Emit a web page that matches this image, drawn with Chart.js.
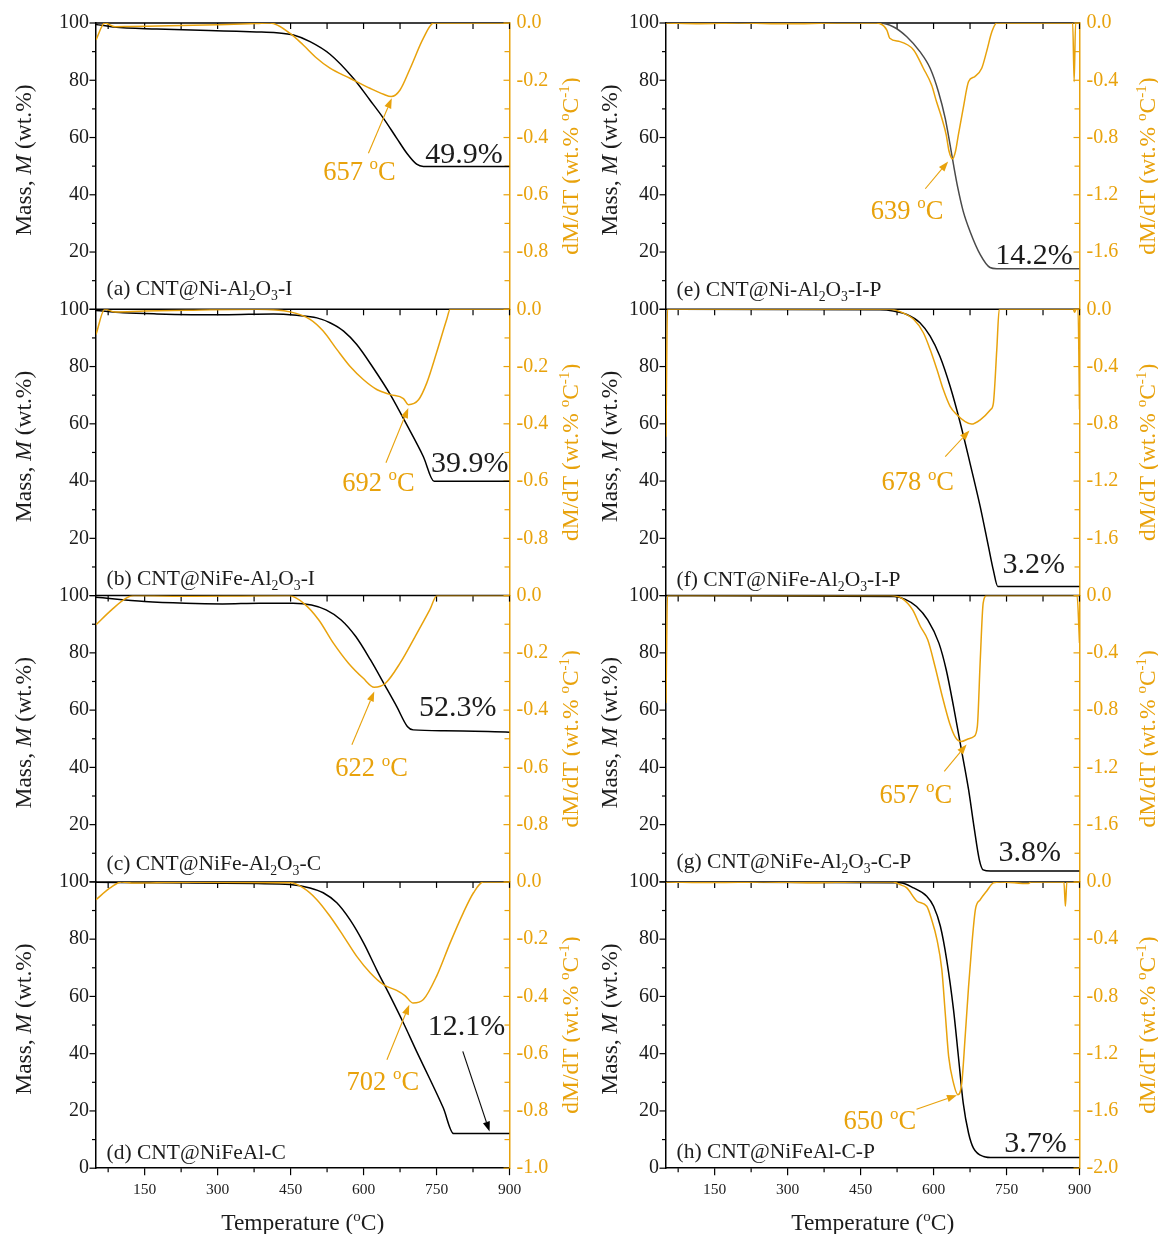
<!DOCTYPE html>
<html>
<head>
<meta charset="utf-8">
<title>TGA / DTG of CNT composites</title>
<script src="https://cdn.jsdelivr.net/npm/chart.js@4.4.1/dist/chart.umd.min.js"></script>
<style>
  html, body { margin: 0; padding: 0; background: #ffffff; }
  #wrap { position: relative; width: 1158px; height: 1234px; overflow: hidden; }
  #wrap canvas { position: absolute; top: 0; }
</style>
</head>
<body>
<div id="wrap"></div>
<script>
// ---------------- axis ticks ----------------
const xTicks = [150, 300, 450, 600, 750, 900];
const xMinorTicks = [75, 225, 375, 525, 675, 825];
const massTicks = [0, 20, 40, 60, 80, 100];
const massMinorTicks = [10, 30, 50, 70, 90];
const dtgTicksLeftCol = [0, -0.2, -0.4, -0.6, -0.8, -1.0];
const dtgMinorLeftCol = [-0.1, -0.3, -0.5, -0.7, -0.9];
const dtgTicksRightCol = [0, -0.4, -0.8, -1.2, -1.6, -2.0];
const dtgMinorRightCol = [-0.2, -0.6, -1.0, -1.4, -1.8];

// ---------------- sample names and labelled values ----------------
const sampleNames = [
  "(a) CNT@Ni-Al_{2}O_{3}-I",
  "(b) CNT@NiFe-Al_{2}O_{3}-I",
  "(c) CNT@NiFe-Al_{2}O_{3}-C",
  "(d) CNT@NiFeAl-C",
  "(e) CNT@Ni-Al_{2}O_{3}-I-P",
  "(f) CNT@NiFe-Al_{2}O_{3}-I-P",
  "(g) CNT@NiFe-Al_{2}O_{3}-C-P",
  "(h) CNT@NiFeAl-C-P"
];
const residualMass = [49.9, 39.9, 52.3, 12.1, 14.2, 3.2, 3.8, 3.7];   // wt.%
const peakTemps = [657, 692, 622, 702, 639, 678, 657, 650];           // °C

// ---------------- mass (TG) curves ----------------
const massTempA = [50, 86, 175, 312, 380, 421, 456, 490, 531, 579, 613, 641, 668, 689, 709, 723, 760, 900];
const massA     = [99.5, 98.6, 97.9, 97.2, 96.9, 96.6, 95.8, 93.5, 89.1, 80.7, 73.1, 66.7, 59.8, 54.5, 50.7, 49.9, 49.9, 49.9];
const massTempB = [50, 106, 175, 312, 415, 463, 504, 531, 559, 586, 620, 655, 689, 723, 745, 900];
const massB     = [99.6, 98.8, 98.4, 98.1, 98.4, 97.9, 97.0, 95.3, 92.4, 87.7, 79.5, 70.2, 59.6, 48.5, 39.9, 39.9];
const massTempC = [50, 150, 234, 310, 386, 455, 493, 523, 554, 584, 614, 645, 668, 690, 702, 767, 900];
const massC     = [99.4, 97.9, 97.3, 97.1, 97.3, 97.3, 96.7, 95.0, 91.5, 85.7, 77.6, 68.3, 61.3, 54.3, 53.1, 52.8, 52.3];
const massTempD = [50, 175, 380, 449, 490, 517, 545, 572, 600, 627, 655, 682, 709, 737, 764, 785, 900];
const massD     = [99.9, 99.7, 99.4, 99.1, 97.9, 96.2, 92.7, 86.8, 78.7, 69.3, 60.0, 50.7, 40.8, 30.9, 21.0, 12.1, 12.1];
const massTempE = [50, 490, 517, 545, 572, 593, 610, 624, 634, 641, 650, 661, 675, 696, 716, 730, 900];
const massE     = [100, 100, 98.7, 95.2, 90.0, 84.2, 76.0, 66.7, 57.4, 50.5, 42.3, 34.2, 27.2, 19.1, 14.6, 14.2, 14.2];
const massTempF = [50, 490, 517, 545, 572, 593, 613, 634, 655, 675, 696, 713, 723, 732, 900];
const massF     = [100, 99.8, 99.4, 98.2, 95.3, 90.6, 83.6, 73.1, 60.2, 46.2, 31.0, 17.0, 8.8, 3.2, 3.2];
const massTempG = [50, 519, 542, 565, 588, 611, 626, 641, 656, 672, 683, 694, 702, 717, 900];
const massG     = [100, 99.7, 98.7, 96.2, 91.5, 83.4, 74.1, 61.3, 47.3, 32.2, 19.4, 7.8, 4.2, 3.8, 3.8];
const massTempH = [50, 531, 559, 586, 600, 614, 627, 641, 651, 661, 672, 682, 703, 723, 900];
const massH     = [100, 99.7, 97.9, 95.0, 91.5, 84.5, 72.8, 55.4, 39.1, 22.7, 12.2, 7.0, 4.1, 3.7, 3.7];

// ---------------- derivative (DTG) curves, wt.% per °C ----------------
const dtgTempA = [50, 68, 89, 120, 200, 300, 380, 408, 449, 476, 504, 531, 572, 613, 641, 657, 675, 696, 723, 744, 900];
const dtgA     = [-0.059, 0, -0.013, -0.012, -0.010, -0.006, -0.002, 0, -0.036, -0.077, -0.123, -0.158, -0.193, -0.228, -0.249, -0.257, -0.234, -0.158, -0.053, 0, 0];
const dtgTempB = [50, 68, 89, 150, 250, 380, 449, 490, 517, 545, 572, 600, 628, 655, 682, 692, 713, 730, 750, 771, 778, 900];
const dtgB     = [-0.088, 0, -0.009, -0.006, -0.003, 0, -0.009, -0.035, -0.076, -0.140, -0.199, -0.246, -0.281, -0.298, -0.312, -0.333, -0.316, -0.257, -0.152, -0.035, 0, 0];
const dtgTempC = [50, 82, 112, 128, 250, 350, 447, 477, 508, 538, 569, 599, 622, 645, 675, 706, 736, 751, 900];
const dtgC     = [-0.102, -0.050, -0.009, 0, -0.002, -0.001, 0, -0.027, -0.085, -0.166, -0.236, -0.288, -0.320, -0.306, -0.236, -0.143, -0.050, 0, 0];
const dtgTempD = [50, 79, 103, 127, 250, 449, 476, 504, 531, 559, 586, 614, 641, 668, 685, 702, 723, 750, 778, 805, 826, 846, 900];
const dtgD     = [-0.062, -0.021, 0, -0.004, -0.001, -0.003, -0.021, -0.062, -0.120, -0.190, -0.260, -0.318, -0.359, -0.379, -0.397, -0.423, -0.411, -0.330, -0.213, -0.108, -0.038, 0, 0];
const dtgTempE = [50, 120, 200, 300, 400, 483, 504, 510, 531, 559, 579, 596, 606, 617, 626, 632, 639, 645, 651, 661, 672, 685, 699, 709, 720, 730, 886, 889, 892, 900];
const dtgE     = [0, -0.005, 0, -0.006, 0, 0, -0.049, -0.107, -0.130, -0.188, -0.316, -0.433, -0.549, -0.665, -0.781, -0.898, -0.949, -0.898, -0.781, -0.595, -0.409, -0.374, -0.316, -0.200, -0.060, 0, 0, -0.410, 0, 0];
const dtgTempF = [50, 53, 200, 400, 510, 531, 559, 579, 593, 607, 620, 634, 648, 665, 678, 696, 717, 723, 730, 735, 887, 890, 893, 897, 900];
const dtgF     = [-0.890, 0, 0, 0, 0, -0.016, -0.070, -0.164, -0.281, -0.421, -0.561, -0.678, -0.737, -0.784, -0.802, -0.772, -0.702, -0.655, -0.280, 0, 0, -0.020, 0, 0, -0.700];
const dtgTempG = [50, 53, 200, 400, 512, 535, 557, 573, 588, 603, 618, 633, 645, 657, 672, 683, 690, 696, 702, 709, 895, 900];
const dtgG     = [-0.750, 0, 0, 0, 0, -0.019, -0.100, -0.216, -0.309, -0.495, -0.705, -0.891, -0.990, -1.019, -1.000, -0.984, -0.914, -0.449, -0.053, 0, 0, -0.330];
const dtgTempH = [50, 150, 250, 350, 450, 517, 531, 545, 566, 586, 596, 607, 617, 624, 631, 641, 650, 658, 665, 672, 679, 686, 696, 709, 723, 737, 795, 800, 868, 871, 874, 900];
const dtgH     = [0, -0.004, 0, -0.006, 0, 0, -0.019, -0.042, -0.135, -0.170, -0.263, -0.403, -0.613, -0.916, -1.219, -1.406, -1.487, -1.406, -1.079, -0.730, -0.427, -0.193, -0.124, -0.065, -0.007, 0, -0.012, 0, 0, -0.170, 0, 0];

// ---------------- styling ----------------
const FONT = "'Liberation Serif', 'Times New Roman', serif";
const ORANGE = '#E8A20C';
const INK = '#1c1c1c';
const PAGE_H = 1234;
const PANEL_TOP = 23;
const PANEL_H = 286.3;
const X_AXIS_H = 40;
const Y_AXIS_W = 60;
const columns = [
  { left: 0,   width: 580, areaLeft: 96, areaRight: 509.5, massTitleX: 23, dtgTitleX: 570 },
  { left: 580, width: 578, areaLeft: 86, areaRight: 499.5, massTitleX: 29, dtgTitleX: 567 }
];

// annotation placement, in temperature / mass-axis units
const notes = [
  { pct: [886, 51.0], temp: [517, 45.2], arrow: [[610, 54.5], [658, 73.7]], labelGap: 14 },
  { pct: [898, 43.3], temp: [556, 36.6], arrow: [[646, 46.4], [692, 65.5]], labelGap: 10.5 },
  { pct: [873, 58.0], temp: [542, 36.9], arrow: [[576, 47.9], [622, 66.5]], labelGap: 12 },
  { pct: [891, 46.4], temp: [565, 27.4], arrow: [[648, 37.9], [694, 57.1]], labelGap: 9.5,
    pctArrow: [[804, 40.8], [859, 12.8]] },
  { pct: [886, 15.8], temp: [471, 31.6], arrow: [[583, 42.1], [630, 51.6]], labelGap: 13 },
  { pct: [870, 7.8],  temp: [493, 36.8], arrow: [[624, 48.5], [674, 57.7]], labelGap: 9.7 },
  { pct: [862, 7.2],  temp: [489, 27.6], arrow: [[622, 38.6], [668, 48.0]], labelGap: 14 },
  { pct: [874, 5.8],  temp: [415, 13.6], arrow: [[565, 20.6], [648, 25.5]], labelGap: 10 }
];

const panels = [
  { mT: massTempA, m: massA, dT: dtgTempA, d: dtgA, massColor: '#000000' },
  { mT: massTempB, m: massB, dT: dtgTempB, d: dtgB, massColor: '#000000' },
  { mT: massTempC, m: massC, dT: dtgTempC, d: dtgC, massColor: '#000000' },
  { mT: massTempD, m: massD, dT: dtgTempD, d: dtgD, massColor: '#000000' },
  { mT: massTempE, m: massE, dT: dtgTempE, d: dtgE, massColor: '#4a4a4a' },
  { mT: massTempF, m: massF, dT: dtgTempF, d: dtgF, massColor: '#000000' },
  { mT: massTempG, m: massG, dT: dtgTempG, d: dtgG, massColor: '#000000' },
  { mT: massTempH, m: massH, dT: dtgTempH, d: dtgH, massColor: '#000000' }
];

// ---------------- rich text: _{sub} ^{sup} *italic* ----------------
function parseRich(s) {
  const out = [];
  let buf = '', italic = false, i = 0;
  const flush = () => { if (buf) { out.push({ t: buf, mode: 'n', it: italic }); buf = ''; } };
  while (i < s.length) {
    const c = s[i];
    if ((c === '_' || c === '^') && s[i + 1] === '{') {
      flush();
      const j = s.indexOf('}', i);
      out.push({ t: s.slice(i + 2, j), mode: c === '_' ? 'sub' : 'sup', it: italic });
      i = j + 1;
      continue;
    }
    if (c === '*') { flush(); italic = !italic; i++; continue; }
    buf += c; i++;
  }
  flush();
  return out;
}

function drawRich(ctx, s, x, y, o) {
  const size = o.size;
  const segs = parseRich(s).map(p => {
    const sz = p.mode === 'n' ? size : size * 0.64;
    const font = (p.it ? 'italic ' : '') + sz + 'px ' + FONT;
    ctx.font = font;
    return Object.assign({}, p, { font, w: ctx.measureText(p.t).width });
  });
  const total = segs.reduce((a, b) => a + b.w, 0);
  ctx.save();
  ctx.translate(x, y);
  if (o.rotate) ctx.rotate(o.rotate);
  let cx = o.align === 'center' ? -total / 2 : (o.align === 'right' ? -total : 0);
  const base = o.baseShift || 0;
  ctx.fillStyle = o.color;
  ctx.textAlign = 'left';
  ctx.textBaseline = 'alphabetic';
  for (const p of segs) {
    ctx.font = p.font;
    const dy = p.mode === 'sub' ? size * 0.24 : (p.mode === 'sup' ? -size * 0.40 : 0);
    ctx.fillText(p.t, cx, base + dy);
    cx += p.w;
  }
  ctx.restore();
}

function drawArrow(ctx, x1, y1, x2, y2, color) {
  const ang = Math.atan2(y2 - y1, x2 - x1);
  const hl = 10, hw = 3.6;
  const bx = x2 - hl * Math.cos(ang), by = y2 - hl * Math.sin(ang);
  ctx.save();
  ctx.strokeStyle = color; ctx.fillStyle = color; ctx.lineWidth = 1.1;
  ctx.beginPath(); ctx.moveTo(x1, y1); ctx.lineTo(bx, by); ctx.stroke();
  ctx.beginPath();
  ctx.moveTo(x2, y2);
  ctx.lineTo(bx + hw * Math.sin(ang), by - hw * Math.cos(ang));
  ctx.lineTo(bx - hw * Math.sin(ang), by + hw * Math.cos(ang));
  ctx.closePath(); ctx.fill();
  ctx.restore();
}

function line(ctx, x1, y1, x2, y2) {
  ctx.beginPath(); ctx.moveTo(x1, y1); ctx.lineTo(x2, y2); ctx.stroke();
}

// frame ticks, top spine, titles and annotations
const panelDecor = {
  id: 'panelDecor',
  beforeDatasetsDraw(chart) {
    const o = chart.options.plugins.panelDecor;
    const { ctx, chartArea: a } = chart;
    const { x, y, y2 } = chart.scales;
    ctx.save();
    ctx.lineCap = 'butt';
    // top spine with inward ticks
    ctx.strokeStyle = '#000'; ctx.lineWidth = 1.5;
    line(ctx, a.left, a.top, a.right, a.top);
    ctx.lineWidth = 1.2;
    for (const v of xTicks.concat(xMinorTicks)) {
      const px = x.getPixelForValue(v);
      line(ctx, px, a.top, px, a.top + 6);
    }
    // left mass axis: outward ticks
    for (const v of massTicks) { const py = y.getPixelForValue(v); line(ctx, a.left - 6.5, py, a.left, py); }
    for (const v of massMinorTicks) { const py = y.getPixelForValue(v); line(ctx, a.left - 4, py, a.left, py); }
    // bottom temperature axis
    if (o.bottom) {
      for (const v of xTicks) { const px = x.getPixelForValue(v); line(ctx, px, a.bottom, px, a.bottom + 7); }
      for (const v of xMinorTicks) { const px = x.getPixelForValue(v); line(ctx, px, a.bottom, px, a.bottom + 4); }
    }
    // right derivative axis: inward ticks
    ctx.strokeStyle = ORANGE;
    for (const v of o.dtgMajor) { const py = y2.getPixelForValue(v); line(ctx, a.right - 6, py, a.right, py); }
    for (const v of o.dtgMinor) { const py = y2.getPixelForValue(v); line(ctx, a.right - 5, py, a.right, py); }
    ctx.restore();
  },
  afterDraw(chart) {
    const o = chart.options.plugins.panelDecor;
    const { ctx, chartArea: a } = chart;
    const { x, y } = chart.scales;
    const n = o.note;
    const P = (pt) => [x.getPixelForValue(pt[0]), y.getPixelForValue(pt[1])];

    // sample name
    drawRich(ctx, o.name, a.left + 10.5, a.bottom - n.labelGap, { size: 21.5, color: INK, align: 'left' });

    // residual mass
    const pp = P(n.pct);
    drawRich(ctx, o.residual.toFixed(1) + '%', pp[0], pp[1], { size: 30, color: INK, align: 'right' });
    if (n.pctArrow) {
      const s = P(n.pctArrow[0]), e = P(n.pctArrow[1]);
      drawArrow(ctx, s[0], s[1], e[0], e[1], '#000');
    }

    // peak temperature
    const tp = P(n.temp);
    drawRich(ctx, o.peak + ' ^{o}C', tp[0], tp[1], { size: 26.5, color: ORANGE, align: 'left' });
    const s = P(n.arrow[0]), e = P(n.arrow[1]);
    drawArrow(ctx, s[0], s[1], e[0], e[1], ORANGE);

    // axis titles
    const midY = (a.top + a.bottom) / 2;
    drawRich(ctx, 'Mass, *M* (wt.%)', o.massTitleX, midY - 6,
      { size: 23.5, color: INK, align: 'center', rotate: -Math.PI / 2, baseShift: 8 });
    drawRich(ctx, 'dM/dT (wt.% ^{o}C^{-1})', o.dtgTitleX, midY,
      { size: 23.5, color: ORANGE, align: 'center', rotate: -Math.PI / 2, baseShift: 8 });
    if (o.bottom) {
      drawRich(ctx, 'Temperature (^{o}C)', (a.left + a.right) / 2, 1230, { size: 23.5, color: INK, align: 'center' });
    }
  }
};

const wrap = document.getElementById('wrap');

panels.forEach((p, idx) => {
  const col = idx < 4 ? 0 : 1;
  const row = idx % 4;
  const C = columns[col];
  const isBottom = row === 3;
  const top = PANEL_TOP + row * PANEL_H;
  const bottom = top + PANEL_H;
  const dtgMajor = col === 0 ? dtgTicksLeftCol : dtgTicksRightCol;
  const dtgMinor = col === 0 ? dtgMinorLeftCol : dtgMinorRightCol;
  const dtgMin = dtgMajor[dtgMajor.length - 1];

  const canvas = document.createElement('canvas');
  canvas.width = C.width; canvas.height = PAGE_H;
  canvas.style.left = C.left + 'px';
  canvas.style.width = C.width + 'px'; canvas.style.height = PAGE_H + 'px';
  wrap.appendChild(canvas);

  new Chart(canvas, {
    type: 'line',
    data: {
      datasets: [
        {
          label: 'dM/dT',
          data: p.dT.map((t, i) => ({ x: t, y: p.d[i] })),
          yAxisID: 'y2', borderColor: ORANGE, borderWidth: 1.5,
          pointRadius: 0, cubicInterpolationMode: 'monotone', order: 0
        },
        {
          label: 'Mass',
          data: p.mT.map((t, i) => ({ x: t, y: p.m[i] })),
          yAxisID: 'y', borderColor: p.massColor, borderWidth: 1.5,
          pointRadius: 0, cubicInterpolationMode: 'monotone', order: 1
        }
      ]
    },
    options: {
      responsive: false,
      animation: false,
      devicePixelRatio: 1,
      events: [],
      layout: {
        padding: {
          left: C.areaLeft - Y_AXIS_W,
          right: C.width - C.areaRight - Y_AXIS_W,
          top: top,
          bottom: PAGE_H - bottom - (isBottom ? X_AXIS_H : 0)
        }
      },
      plugins: {
        legend: { display: false },
        tooltip: { enabled: false },
        panelDecor: {
          bottom: isBottom, dtgMajor, dtgMinor,
          name: sampleNames[idx], residual: residualMass[idx], peak: peakTemps[idx],
          note: notes[idx], massTitleX: C.massTitleX, dtgTitleX: C.dtgTitleX
        }
      },
      scales: {
        x: {
          type: 'linear', min: 50, max: 900, display: isBottom,
          afterBuildTicks: s => { s.ticks = xTicks.map(v => ({ value: v })); },
          afterFit: s => { s.height = isBottom ? X_AXIS_H : 0; },
          grid: { display: false, drawTicks: false },
          border: { display: true, color: '#000', width: 1.5 },
          ticks: { font: { family: FONT, size: 15.5 }, color: INK, padding: 12, maxRotation: 0, autoSkip: false,
                   callback: v => String(v) }
        },
        y: {
          type: 'linear', position: 'left', min: 0, max: 100,
          afterBuildTicks: s => { s.ticks = massTicks.filter(v => isBottom || v > 0).map(v => ({ value: v })); },
          afterFit: s => { s.width = Y_AXIS_W; },
          grid: { display: false, drawTicks: false },
          border: { display: true, color: '#000', width: 1.5 },
          ticks: { font: { family: FONT, size: 20 }, color: INK, padding: 7, callback: v => String(v) }
        },
        y2: {
          type: 'linear', position: 'right', min: dtgMin, max: 0,
          afterBuildTicks: s => { s.ticks = dtgMajor.filter(v => isBottom || v > dtgMin).map(v => ({ value: v })); },
          afterFit: s => { s.width = Y_AXIS_W; },
          grid: { display: false, drawTicks: false },
          border: { display: true, color: ORANGE, width: 1.5 },
          ticks: { font: { family: FONT, size: 20 }, color: ORANGE, padding: 7, callback: v => v.toFixed(1) }
        }
      }
    },
    plugins: [panelDecor]
  });
});
</script>
</body>
</html>
